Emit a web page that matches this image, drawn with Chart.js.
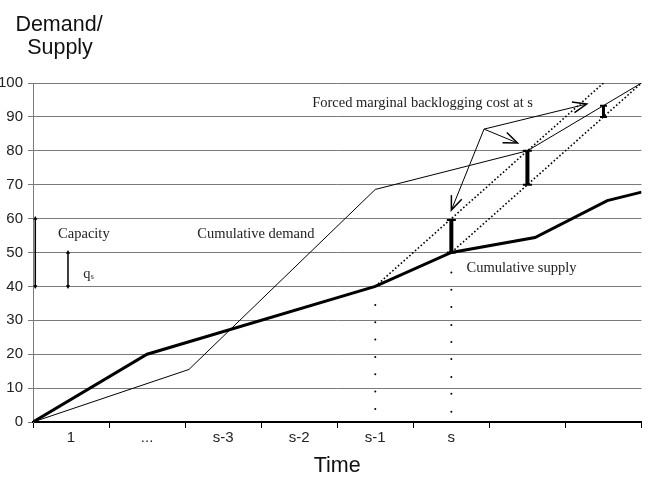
<!DOCTYPE html>
<html>
<head>
<meta charset="utf-8">
<script src="https://cdn.jsdelivr.net/npm/chart.js@4"></script>
<style>
  html, body { margin: 0; padding: 0; background: #fff; }
  #wrap { width: 648px; height: 481px; }
</style>
</head>
<body>
<div id="wrap"><canvas id="chart" width="648" height="481"></canvas></div>
<script>
// time axis: 8 periods, data sits on a 0..8 scale (period centres at k+0.5)
var timeLabels = ['1', '...', 's-3', 's-2', 's-1', 's', '', ''];

var supplyX = [0, 1.5, 4.5, 5.5, 6.6, 7.55, 8];
var supplyY = [0, 20, 40, 50, 54.4, 65.3, 67.8];

var demandX = [0, 2.05, 4.5, 6.5, 8];
var demandY = [0, 15.5, 68.6, 80, 100];

var dotted1X = [4.5, 5.5, 6.5, 7.5];
var dotted1Y = [40, 60, 80, 100];
var dotted2X = [4.5, 5.5, 6.5, 7.5, 8];
var dotted2Y = [40, 50, 70, 90, 100];

// backlog bars (low, high)
var barX = [5.5, 6.5, 7.5];
var barLow = [50, 70, 90];
var barHigh = [59.6, 80, 93.3];

// dotted verticals under s-1 and s
var dotsSm1 = [34.5, 29.4, 24.3, 19.2, 14.1, 9.0, 3.8];
var dotsS = [44.1, 39.0, 33.9, 28.6, 23.6, 18.6, 13.3, 8.3, 3.0];

// annotation arrows
var arrowFrom = [5.93, 86.4];
var arrowTo = [[7.28, 93.8], [6.37, 82.3], [5.5, 62.5]];

function pts(xs, ys) {
  return xs.map(function(x, i) { return { x: x, y: ys[i] }; });
}

var datasets = [];

datasets.push({
  data: pts(dotted1X, dotted1Y), borderColor: '#000', borderWidth: 1.6,
  borderDash: [1.6, 2.2], pointRadius: 0
});
datasets.push({
  data: pts(dotted2X, dotted2Y), borderColor: '#000', borderWidth: 1.6,
  borderDash: [1.6, 2.2], pointRadius: 0
});

datasets.push({
  data: pts(demandX, demandY), borderColor: '#000', borderWidth: 1, pointRadius: 0
});
datasets.push({
  data: pts(supplyX, supplyY), borderColor: '#000', borderWidth: 3, pointRadius: 0
});

barX.forEach(function(x, i) {
  datasets.push({
    data: [{ x: x, y: barLow[i] }, { x: x, y: barHigh[i] }],
    borderColor: '#000', borderWidth: i == 2 ? 3 : 4,
    pointStyle: 'line', pointRadius: i == 2 ? 3.5 : 4.5, pointBorderWidth: 2,
    pointBorderColor: '#000'
  });
});

datasets.push({
  data: dotsSm1.map(function(v) { return { x: 4.5, y: v }; }),
  showLine: false, pointRadius: 1, pointBackgroundColor: '#000', pointBorderWidth: 0
});
datasets.push({
  data: dotsS.map(function(v) { return { x: 5.5, y: v }; }),
  showLine: false, pointRadius: 1, pointBackgroundColor: '#000', pointBorderWidth: 0
});

arrowTo.forEach(function(t) {
  datasets.push({
    data: [{ x: arrowFrom[0], y: arrowFrom[1] }, { x: t[0], y: t[1] }],
    borderColor: '#000', borderWidth: 1, pointRadius: 0
  });
});

// capacity and q_s double arrows
datasets.push({
  data: [{ x: 0.03, y: 40 }, { x: 0.03, y: 60 }],
  borderColor: '#000', borderWidth: 1.5, pointStyle: 'triangle',
  pointRotation: [180, 0], pointRadius: 2.5, pointBackgroundColor: '#000', pointBorderWidth: 0
});
datasets.push({
  data: [{ x: 0.46, y: 40 }, { x: 0.46, y: 50 }],
  borderColor: '#000', borderWidth: 1.5, pointStyle: 'triangle',
  pointRotation: [180, 0], pointRadius: 2.5, pointBackgroundColor: '#000', pointBorderWidth: 0
});

var textPlugin = {
  id: 'texts',
  afterDraw: function(chart) {
    var ctx = chart.ctx;
    var xs = chart.scales.x, ys = chart.scales.y;
    var area = chart.chartArea;

    // open arrow heads
    ctx.save();
    ctx.strokeStyle = '#000';
    ctx.lineWidth = 1.5;
    var fx = xs.getPixelForValue(arrowFrom[0]), fy = ys.getPixelForValue(arrowFrom[1]);
    arrowTo.forEach(function(t) {
      var tx = xs.getPixelForValue(t[0]), ty = ys.getPixelForValue(t[1]);
      var a = Math.atan2(ty - fy, tx - fx);
      var len = 15, spread = 0.38;
      ctx.beginPath();
      ctx.moveTo(tx - len * Math.cos(a - spread), ty - len * Math.sin(a - spread));
      ctx.lineTo(tx, ty);
      ctx.lineTo(tx - len * Math.cos(a + spread), ty - len * Math.sin(a + spread));
      ctx.stroke();
    });
    ctx.restore();

    ctx.save();
    ctx.fillStyle = '#222';
    ctx.textBaseline = 'middle';
    ctx.font = '14.5px "Liberation Serif", serif';
    ctx.textAlign = 'left';
    ctx.fillText('Capacity', xs.getPixelForValue(0.33), ys.getPixelForValue(55.5));
    ctx.fillText('Cumulative demand', xs.getPixelForValue(2.16), ys.getPixelForValue(55.5));
    ctx.fillText('Cumulative supply', xs.getPixelForValue(5.7), ys.getPixelForValue(45.4));
    ctx.fillText('Forced marginal backlogging cost at s', xs.getPixelForValue(3.67), ys.getPixelForValue(94.1));
    var qx = xs.getPixelForValue(0.66), qy = ys.getPixelForValue(43.6);
    ctx.fillText('q', qx, qy);
    ctx.font = '8px "Liberation Serif", serif';
    ctx.fillText('s', qx + 7.5, qy + 3);

    ctx.font = '21.5px "Liberation Sans", Arial, sans-serif';
    ctx.textAlign = 'center';
    ctx.fillStyle = '#111';
    ctx.fillText('Time', (area.left + area.right) / 2, 466);
    ctx.fillText('Demand/', 59, 25);
    ctx.fillText('Supply', 60, 48);
    ctx.restore();
  }
};

new Chart(document.getElementById('chart').getContext('2d'), {
  type: 'line',
  data: { datasets: datasets },
  options: {
    responsive: false,
    animation: false,
    layout: { padding: { top: 83, right: 5, left: 0, bottom: 0 } },
    plugins: { legend: { display: false }, tooltip: { enabled: false } },
    scales: {
      x: { type: 'linear', min: 0, max: 8, display: false },
      xc: {
        type: 'category', labels: timeLabels, position: 'bottom', offset: true,
        grid: { offset: true, drawOnChartArea: false, drawTicks: true, tickLength: 6, color: '#000', lineWidth: 1 },
        border: { color: '#000', width: 2 },
        ticks: { color: '#222', font: { family: 'Liberation Sans', size: 15 }, padding: 1, maxRotation: 0, autoSkip: false },
        afterFit: function(s) { s.height = 59; }
      },
      y: {
        min: 0, max: 100,
        grid: { color: '#7a7a7a', lineWidth: 1, tickLength: 5 },
        border: { color: '#7a7a7a', width: 1 },
        ticks: { stepSize: 10, color: '#222', font: { family: 'Liberation Sans', size: 15 }, padding: 5 },
        afterFit: function(s) { s.width = 33; }
      }
    }
  },
  plugins: [textPlugin]
});
</script>
</body>
</html>
